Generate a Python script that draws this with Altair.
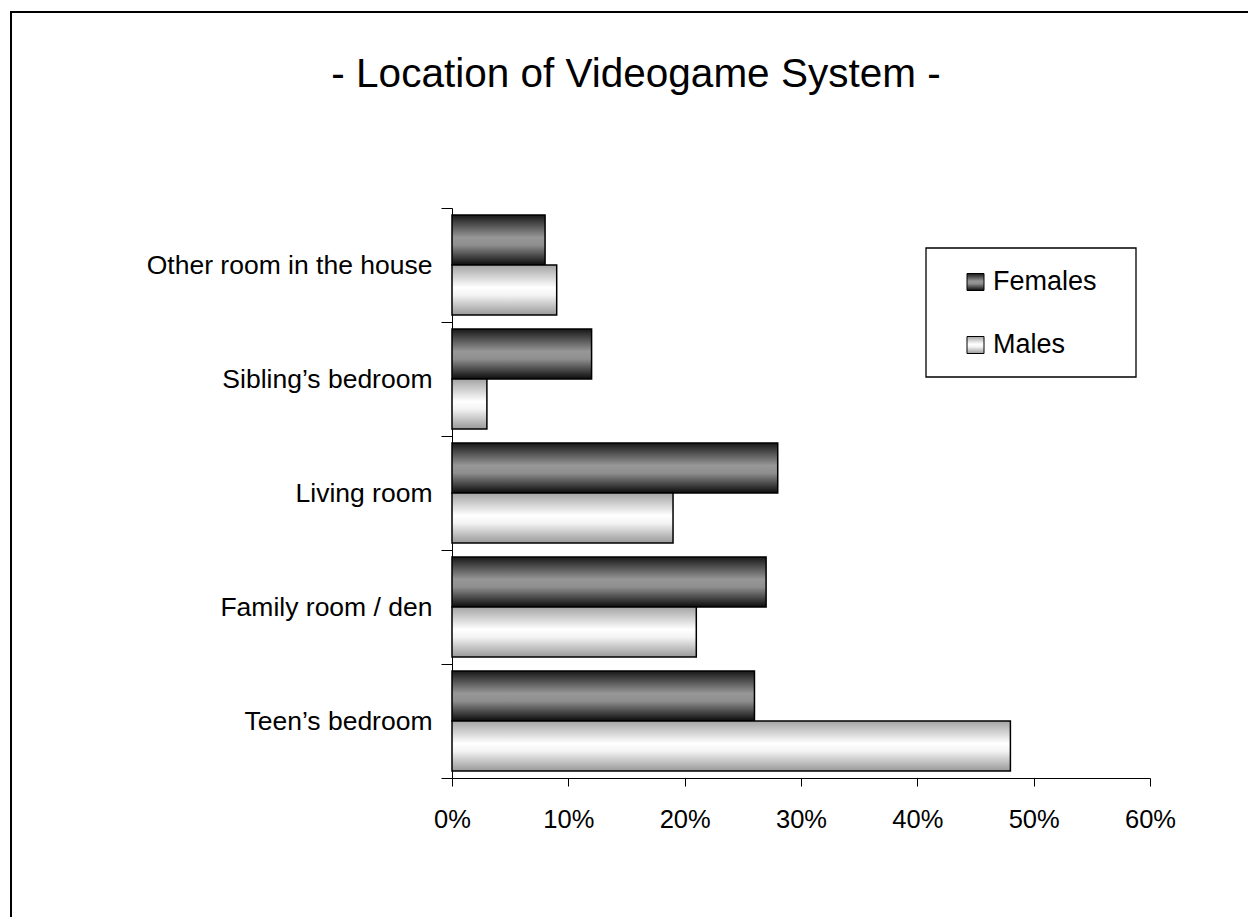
import altair as alt
import pandas as pd

categories = ["Other room in the house", "Sibling\u2019s bedroom", "Living room",
              "Family room / den", "Teen\u2019s bedroom"]
females = [8, 12, 28, 27, 26]
males = [9, 3, 19, 21, 48]
series = ["Females", "Males"]
x_ticks = [0, 0.1, 0.2, 0.3, 0.4, 0.5, 0.6]
title_text = "- Location of Videogame System -"

rows = []
for c, f, m in zip(categories, females, males):
    rows.append({"Location": c, "Sex": "Females", "Value": f / 100})
    rows.append({"Location": c, "Sex": "Males", "Value": m / 100})
df = pd.DataFrame(rows)

FONT = "Liberation Sans"

grad_f = {"gradient": "linear", "x1": 0, "y1": 0, "x2": 0, "y2": 1,
          "stops": [{"offset": 0, "color": "#181818"},
                    {"offset": 0.45, "color": "#979797"},
                    {"offset": 0.6, "color": "#8f8f8f"},
                    {"offset": 1, "color": "#0c0c0c"}]}
grad_m = {"gradient": "linear", "x1": 0, "y1": 0, "x2": 0, "y2": 1,
          "stops": [{"offset": 0, "color": "#a4a4a4"},
                    {"offset": 0.45, "color": "#ffffff"},
                    {"offset": 0.6, "color": "#f4f4f4"},
                    {"offset": 1, "color": "#999999"}]}
grads = {"Females": grad_f, "Males": grad_m}

x_enc = alt.X("Value:Q", scale=alt.Scale(domain=[0, 0.6], nice=False, zero=True),
              axis=alt.Axis(values=x_ticks, format=".0%", title=None, grid=False,
                            tickSize=8, tickColor="black", domainColor="black",
                            labelFontSize=25.5, labelFont=FONT, labelColor="black",
                            labelPadding=21, labelFlush=False))
y_enc = alt.Y("Location:N", sort=categories, scale=alt.Scale(paddingInner=0, paddingOuter=0),
              axis=alt.Axis(title=None, tickBand="extent", tickSize=11, tickColor="black",
                            domainColor="black", labelFontSize=26.5, labelFont=FONT,
                            labelColor="black", labelPadding=9, labelLimit=0))

bars = alt.Chart(df).mark_bar(stroke="black", strokeWidth=1.5).encode(
    x=x_enc,
    y=y_enc,
    yOffset=alt.YOffset("Sex:N", sort=series,
                        scale=alt.Scale(paddingOuter=0.14, paddingInner=0)),
    fill=alt.condition(alt.datum.Sex == "Females", alt.value(grad_f), alt.value(grad_m)),
)

one = pd.DataFrame({"k": [0]})
frame = alt.Chart(one).mark_rect(fill="white", fillOpacity=0, stroke="black", strokeWidth=2).encode(
    x=alt.value(-441), y=alt.value(-196), x2=alt.value(1300), y2=alt.value(1000))
legend_box = alt.Chart(one).mark_rect(fill="white", stroke="black", strokeWidth=1.3).encode(
    x=alt.value(474), y=alt.value(40), x2=alt.value(684), y2=alt.value(169))

legend_parts = []
for i, s in enumerate(series):
    yc = 74 + 63 * i
    sym = alt.Chart(pd.DataFrame({"s": [s]})).mark_rect(
        fill=grads[s], stroke="black", strokeWidth=1).encode(
        x=alt.value(515), x2=alt.value(532), y=alt.value(yc - 8.5), y2=alt.value(yc + 8.5))
    lab = alt.Chart(pd.DataFrame({"s": [s]})).mark_text(
        font=FONT, fontSize=27, align="left", baseline="middle", color="black").encode(
        text="s:N", x=alt.value(541), y=alt.value(yc))
    legend_parts += [sym, lab]

title = alt.Chart(pd.DataFrame({"t": [title_text]})).mark_text(
    font=FONT, fontSize=40.5, align="center", baseline="alphabetic", color="black").encode(
    text="t:N", x=alt.value(184), y=alt.value(-121))

chart = alt.layer(frame, legend_box, bars, *legend_parts, title).properties(
    width=698, height=570,
    autosize=alt.AutoSizeParams(type="none"),
    padding={"left": 452, "top": 208, "right": 98, "bottom": 139},
    background="white",
).configure_view(strokeWidth=0)

chart.save("out.html", embed_options={"renderer": "svg", "actions": False})
